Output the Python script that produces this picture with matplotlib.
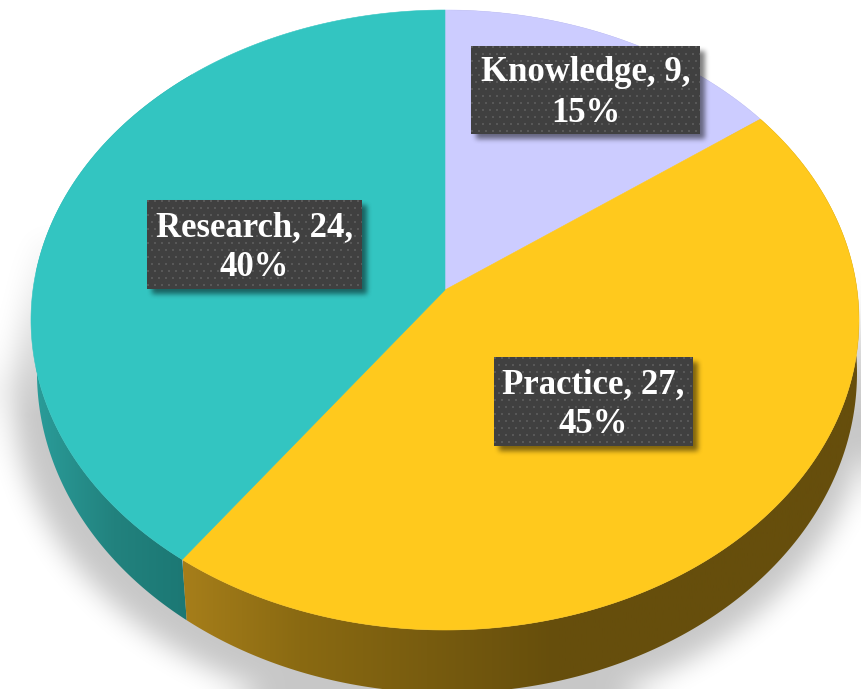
import numpy as np
import matplotlib
matplotlib.use("Agg")
import matplotlib.pyplot as plt
from matplotlib.patches import Polygon
from matplotlib.colors import LinearSegmentedColormap

categories = ["Knowledge", "Practice", "Research"]
values = [9, 27, 24]
top_colors = ["#CCCCFF", "#FFC91D", "#33C5C1"]
wall_stops = [
    [(0.0, "#8E8EB5"), (1.0, "#8E8EB5")],
    [(0.0, "#664E0C"), (0.45, "#664E0C"), (0.83, "#8A6A12"), (1.0, "#A67E1A")],
    [(0.0, "#1B7773"), (0.5, "#22827E"), (1.0, "#2A9C99")],
]
label_boxes = [(471, 46, 700, 134), (494, 357, 693, 446), (147, 200, 362, 289)]

W, H = 861, 689
TOP = (445, 320, 414, 310)
LOW = (447, 373, 410, 320)
APEX = 0.097

fig = plt.figure(figsize=(W / 100, H / 100), dpi=100)
ax = fig.add_axes([0, 0, 1, 1])


def blur(a, r, n=3):
    k = np.ones(2 * r + 1) / (2 * r + 1)
    for _ in range(n):
        a = np.apply_along_axis(lambda m: np.convolve(np.pad(m, r, mode="edge"), k, mode="valid"), 0, a)
        a = np.apply_along_axis(lambda m: np.convolve(np.pad(m, r, mode="edge"), k, mode="valid"), 1, a)
    return a


def rim(t, e):
    X, Y = np.sin(t), np.cos(t)
    d = 1 + APEX * Y
    u = X * np.sqrt(1 - APEX ** 2) / d
    v = (Y + APEX) / d
    return e[0] + e[2] * u, e[1] - e[3] * v


# soft ground shadow
yy, xx = np.mgrid[0:H, 0:W]
mask = (((xx - 440) / 428) ** 2 + ((yy - 394) / 326) ** 2 <= 1).astype(float)
left_edge = 37 - (yy - 225) * 30 / 175
mask = np.maximum(mask, ((yy > 225) & (yy < 400) & (xx > left_edge) & (xx < 200)).astype(float))
mask = blur(mask, 12)
fade = np.clip((yy - 215) / 200, 0, 1)
rgba = np.zeros((H, W, 4))
rgba[..., 3] = mask * fade * 0.22
ax.imshow(rgba, extent=(0, W, H, 0), aspect="auto", zorder=1)

fractions = np.array(values) / sum(values)
edges = np.concatenate([[0], np.cumsum(fractions)]) * 2 * np.pi

# side wall, then top face
for i in range(len(values)):
    t = np.linspace(edges[i], edges[i + 1], 240)
    x0, y0 = rim(t, TOP)
    x1, y1 = rim(t, LOW)
    pts = np.column_stack([np.r_[x0, x1[::-1]], np.r_[y0, y1[::-1]]])
    poly = Polygon(pts, closed=True, fc="none", ec="none")
    ax.add_patch(poly)
    cmap = LinearSegmentedColormap.from_list(f"w{i}", wall_stops[i])
    grad = np.linspace(0, 1, 256)[None, :]
    if i == 2:
        im = ax.imshow(grad, extent=(192, 36, H, 0), aspect="auto", cmap=cmap, zorder=2)
    else:
        im = ax.imshow(grad, extent=(W, 183, H, 0), aspect="auto", cmap=cmap, zorder=2 + 0.1 * (i == 1))
    im.set_clip_path(poly)

for i, c in enumerate(top_colors):
    t = np.linspace(edges[i], edges[i + 1], 400)
    x0, y0 = rim(t, TOP)
    fx = np.r_[TOP[0], x0]
    fy = np.r_[TOP[1] - TOP[3] * APEX, y0]
    ax.fill(fx, fy, fc=c, ec=c, lw=0.4, zorder=3)

# labels
for name, val, frac, (x0, y0, x1, y1) in zip(categories, values, fractions, label_boxes):
    sh = np.zeros((H, W))
    sh[y0 + 5:y1 + 5, x0 + 5:x1 + 5] = 1
    sub = blur(sh[y0 - 15:y1 + 25, x0 - 15:x1 + 25], 2)
    rgba = np.zeros(sub.shape + (4,))
    rgba[..., 3] = sub * 0.5
    ax.imshow(rgba, extent=(x0 - 15, x1 + 25, y1 + 25, y0 - 15), aspect="auto", zorder=4)
    bw, bh = x1 - x0, y1 - y0
    py, px = np.mgrid[0:bh, 0:bw]
    fine = ((py % 7) < 2) & (((px + 3 * ((py // 7) % 2)) % 7) < 2)
    img = np.full((bh, bw, 3), 0x40 / 255)
    img[fine] = 0x58 / 255
    ax.imshow(img, extent=(x0, x1, y1, y0), aspect="auto", zorder=5, interpolation="nearest")
    ax.text((x0 + x1) / 2, (y0 + y1) / 2 + 3, f"{name}, {val},\n{frac:.0%}", color="white", ha="center",
            va="center", family="Liberation Serif", fontweight="bold", fontsize=25, linespacing=1.3, zorder=6)

ax.set_xlim(0, W)
ax.set_ylim(H, 0)
ax.axis("off")
fig.savefig("out.png", dpi=100, facecolor="white")
